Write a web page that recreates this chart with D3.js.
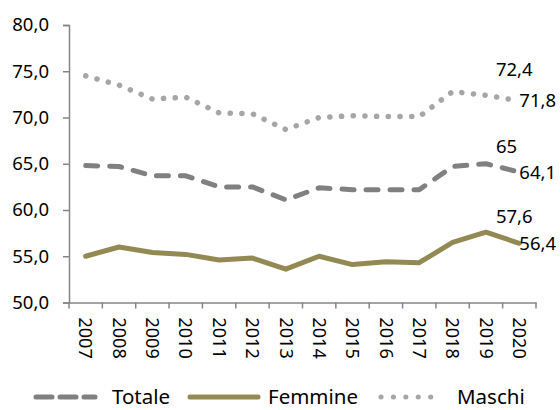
<!DOCTYPE html>
<html><head><meta charset="utf-8">
<script src="https://cdn.jsdelivr.net/npm/d3@7"></script>
<style>body{margin:0;background:#fff}svg{display:block}text{font-family:"Noto Sans",sans-serif;fill:#000}</style>
</head><body>
<svg id="c" width="560" height="410"></svg>
<script>
const years = ["2007","2008","2009","2010","2011","2012","2013","2014","2015","2016","2017","2018","2019","2020"];
const totale  = [64.8, 64.7, 63.7, 63.7, 62.5, 62.5, 61.1, 62.4, 62.2, 62.2, 62.2, 64.7, 65.0, 64.1];
const femmine = [55.0, 56.0, 55.4, 55.2, 54.6, 54.8, 53.6, 55.0, 54.1, 54.4, 54.3, 56.5, 57.6, 56.4];
const maschi  = [74.5, 73.5, 72.0, 72.2, 70.5, 70.4, 68.7, 70.0, 70.2, 70.1, 70.1, 72.8, 72.4, 71.8];
const yTicks = [50, 55, 60, 65, 70, 75, 80];
const seriesNames = ["Totale", "Femmine", "Maschi"];
const labelText = {Totale: ["65", "64,1"], Femmine: ["57,6", "56,4"], Maschi: ["72,4", "71,8"]};

const svg = d3.select("#c");
const x = d3.scaleBand().domain(years).range([69, 536]).padding(0);
const y = d3.scaleLinear().domain([50, 80]).range([302.5, 25]);
const fmt = v => d3.format(".1f")(v).replace(".", ",");

const styles = {
  Totale:  {color: "#808080", width: 5, dash: "12,12"},
  Femmine: {color: "#938953", width: 5, dash: null},
  Maschi:  {color: "#a6a6a6", width: 5.5, dash: "0.1,11.6"}
};
const data = {Totale: totale, Femmine: femmine, Maschi: maschi};

// axes
const axisColor = "#868686";
const yAxis = svg.append("g").attr("transform", "translate(69,0)")
  .call(d3.axisLeft(y).tickValues(yTicks).tickFormat(fmt).tickSize(6).tickPadding(14));
const xAxis = svg.append("g").attr("transform", "translate(0,302.5)")
  .call(d3.axisBottom(x).tickSize(0).tickFormat(""));
[yAxis, xAxis].forEach(g => {
  g.select(".domain").attr("stroke", axisColor).attr("stroke-width", 1.5);
  g.selectAll(".tick line").attr("stroke", axisColor).attr("stroke-width", 1.5);
});
yAxis.selectAll(".tick text").style("font-size", "18.5px").attr("fill", "#000");
// x ticks at band boundaries
const bounds = years.map(d => x(d)).concat([x(years[years.length-1]) + x.bandwidth()]);
xAxis.selectAll(".btick").data(bounds).enter().append("line")
  .attr("x1", d => d).attr("x2", d => d).attr("y1", 0).attr("y2", 6)
  .attr("stroke", axisColor).attr("stroke-width", 1.5);
xAxis.selectAll(".ylab").data(years).enter().append("text")
  .attr("transform", d => `translate(${x(d) + x.bandwidth()/2},15) rotate(90)`)
  .attr("text-anchor", "start").attr("dy", "0.35em")
  .style("font-size", "18px").attr("fill", "#000").text(d => d);

// lines
const cx = d => x(d) + x.bandwidth()/2;
const line = d3.line().x((v, i) => cx(years[i])).y(v => y(v));
["Femmine", "Totale", "Maschi"].forEach(name => {
  const s = styles[name];
  const p = svg.append("path").datum(data[name]).attr("d", line)
    .attr("fill", "none").attr("stroke", s.color).attr("stroke-width", s.width)
    .attr("stroke-linecap", "round").attr("stroke-linejoin", "round");
  if (s.dash) p.attr("stroke-dasharray", s.dash);
});

// data labels for 2019 (above) and 2020 (right)
const n = years.length;
const labelOffsets = {Totale: -17, Femmine: -16, Maschi: -26};
seriesNames.forEach(name => {
  const v = data[name];
  svg.append("text").attr("x", cx(years[n-2]) + 10).attr("y", y(v[n-2]) + labelOffsets[name])
    .attr("dy", "0.35em").style("font-size", "18.5px").text(labelText[name][0]);
  svg.append("text").attr("x", cx(years[n-1])).attr("y", y(v[n-1]))
    .attr("dy", "0.35em").style("font-size", "18.5px").text(labelText[name][1]);
});

// legend
const legY = 397;
const legend = [
  {name: "Totale", x0: 36, x1: 95, tx: 112},
  {name: "Femmine", x0: 190, x1: 258, tx: 268},
  {name: "Maschi", x0: 381, x1: 443, tx: 457}
];
legend.forEach(it => {
  const s = styles[it.name];
  const l = svg.append("line").attr("x1", it.x0).attr("x2", it.x1).attr("y1", legY).attr("y2", legY)
    .attr("stroke", s.color).attr("stroke-width", 5).attr("stroke-linecap", "round");
  if (it.name === "Totale") l.attr("stroke-dasharray", "16,8");
  if (it.name === "Maschi") l.attr("stroke-dasharray", "0.1,12.3");
  svg.append("text").attr("x", it.tx).attr("y", legY).attr("dy", "0.35em")
    .style("font-size", "20.5px").text(it.name);
});
</script>
</body></html>
